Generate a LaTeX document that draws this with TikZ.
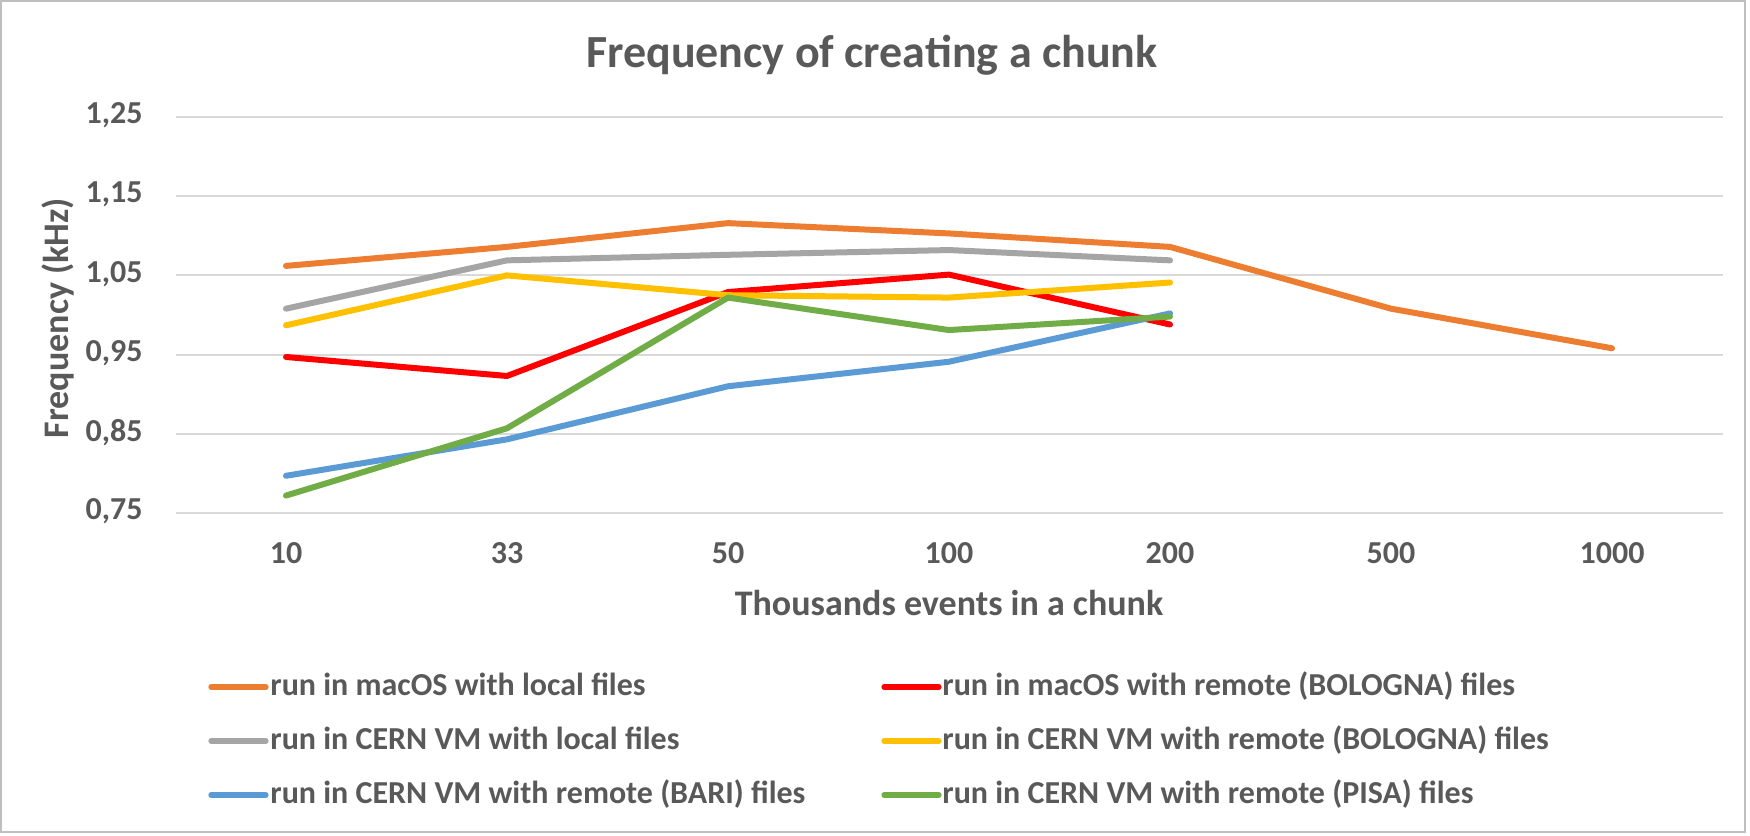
\documentclass[tikz,border=0pt]{standalone}
\usepackage{fontspec}
\setmainfont{Carlito}
\definecolor{txt}{HTML}{595959}
\definecolor{gridc}{HTML}{D9D9D9}
\definecolor{framec}{HTML}{BFBFBF}
\definecolor{sOrange}{HTML}{ED7D31}
\definecolor{sRed}{HTML}{FF0000}
\definecolor{sGray}{HTML}{A5A5A5}
\definecolor{sYellow}{HTML}{FFC000}
\definecolor{sBlue}{HTML}{5B9BD5}
\definecolor{sGreen}{HTML}{70AD47}
\tikzset{
  gridline/.style={draw=gridc, line width=1pt},
  series/.style={line width=3pt, line cap=round, line join=round},
  keyline/.style={line width=2.6pt, line cap=round},
  ticklabel/.style={text=txt, font=\fontsize{16}{19}\selectfont\bfseries, inner sep=0pt},
  keylabel/.style={text=txt, font=\fontsize{16}{19}\selectfont\bfseries, inner sep=0pt, anchor=base west},
  axistitle/.style={text=txt, font=\fontsize{18}{22}\selectfont\bfseries, inner sep=0pt},
  charttitle/.style={text=txt, font=\fontsize{23}{28}\selectfont\bfseries, inner sep=0pt, anchor=base},
}
\begin{document}
\begin{tikzpicture}[x=0.5pt, y=-0.5pt,
  declare function={yv(\v)=117+(1.25-\v)*792; cx(\i)=286+221*\i;}]
  % canvas and frame
  \path[use as bounding box, fill=white] (0,0) rectangle (1750,835);
  \draw[framec, line width=1pt] (1,1) rectangle (1745,832);

  % title
  \node[charttitle] (title) at (872,67) {Frequency of creating a chunk};

  % horizontal gridlines and value labels
  \foreach \v/\lab in {1.25/{1,25}, 1.15/{1,15}, 1.05/{1,05}, 0.95/{0,95}, 0.85/{0,85}, 0.75/{0,75}} {
    \draw[gridline] (176,{yv(\v)}) -- (1723,{yv(\v)});
    \node[ticklabel, anchor=east] at (143,{yv(\v)-1.5}) {\lab};
  }

  % category labels
  \foreach \lab [count=\k from 0] in {10,33,50,100,200,500,1000} {
    \node[ticklabel, anchor=base] at ({cx(\k)},563) {\lab};
  }

  % axis titles
  \node[axistitle, anchor=base] (xtitle) at (949,615) {Thousands events in a chunk};
  \node[axistitle, rotate=90] (ytitle) at (58,318) {Frequency (kHz)};

  % data series
  \draw[series, sOrange] ({cx(0)},{yv(1.062)}) -- ({cx(1)},{yv(1.086)}) -- ({cx(2)},{yv(1.116)})
    -- ({cx(3)},{yv(1.103)}) -- ({cx(4)},{yv(1.086)}) -- ({cx(5)},{yv(1.008)}) -- ({cx(6)},{yv(0.958)});
  \draw[series, sRed] ({cx(0)},{yv(0.947)}) -- ({cx(1)},{yv(0.923)}) -- ({cx(2)},{yv(1.029)})
    -- ({cx(3)},{yv(1.051)}) -- ({cx(4)},{yv(0.988)});
  \draw[series, sGray] ({cx(0)},{yv(1.008)}) -- ({cx(1)},{yv(1.069)}) -- ({cx(2)},{yv(1.076)})
    -- ({cx(3)},{yv(1.082)}) -- ({cx(4)},{yv(1.069)});
  \draw[series, sYellow] ({cx(0)},{yv(0.987)}) -- ({cx(1)},{yv(1.050)}) -- ({cx(2)},{yv(1.025)})
    -- ({cx(3)},{yv(1.022)}) -- ({cx(4)},{yv(1.041)});
  \draw[series, sBlue] ({cx(0)},{yv(0.797)}) -- ({cx(1)},{yv(0.843)}) -- ({cx(2)},{yv(0.910)})
    -- ({cx(3)},{yv(0.941)}) -- ({cx(4)},{yv(1.002)});
  \draw[series, sGreen] ({cx(0)},{yv(0.772)}) -- ({cx(1)},{yv(0.857)}) -- ({cx(2)},{yv(1.022)})
    -- ({cx(3)},{yv(0.981)}) -- ({cx(4)},{yv(0.998)});

  % legend
  \foreach \col/\row/\c/\lab in {
      0/0/sOrange/{run in macOS with local files},
      1/0/sRed/{run in macOS with remote (BOLOGNA) files},
      0/1/sGray/{run in CERN VM with local files},
      1/1/sYellow/{run in CERN VM with remote (BOLOGNA) files},
      0/2/sBlue/{run in CERN VM with remote (BARI) files},
      1/2/sGreen/{run in CERN VM with remote (PISA) files}} {
    \coordinate (k\col\row) at ({211+673*\col},{687+54*\row});
    \draw[keyline, \c] (k\col\row) -- ++(55,0);
    \node[keylabel] at ({270+672*\col},{695+54*\row}) {\lab};
  }
\end{tikzpicture}
\end{document}
